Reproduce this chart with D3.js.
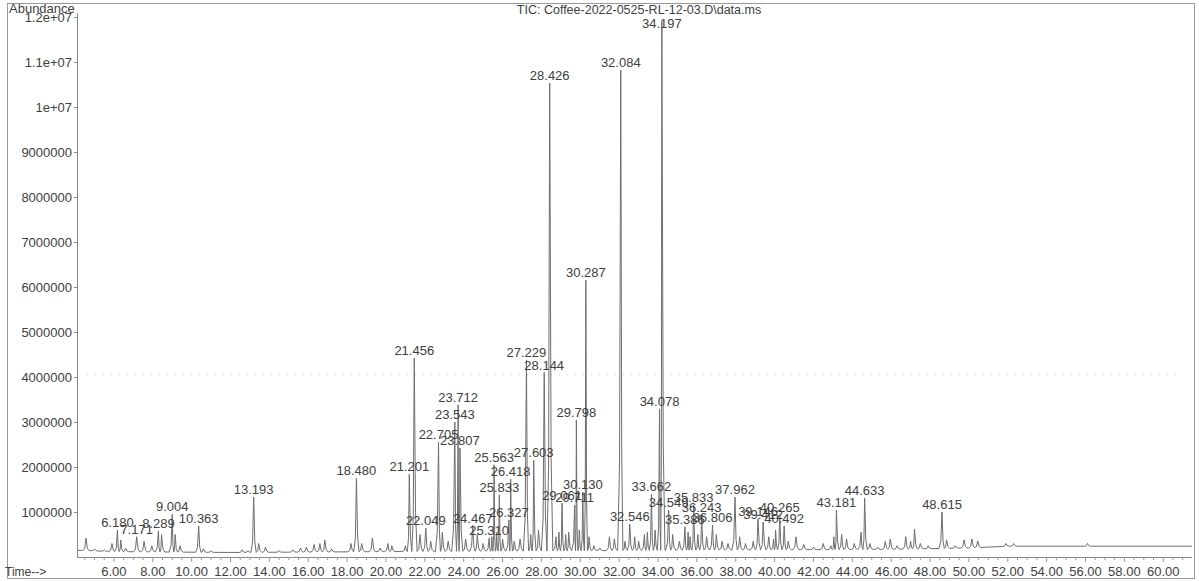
<!DOCTYPE html>
<html>
<head>
<meta charset="utf-8">
<script src="https://cdn.jsdelivr.net/npm/d3@7"></script>
<style>
  body { margin: 0; background: #fff; }
  text { font-family: "Liberation Sans", Arial, sans-serif; fill: #404040; }
</style>
</head>
<body>
<div id="chart"></div>
<script>

// Chromatogram (TIC) redrawn with d3

const width = 1199;
const height = 581;
const margin = {left: 77, right: 7, bottom: 24, top: 17};

// labelled peaks: retention time label + apex abundance
const peakLabels = ["6.180", "7.171", "8.289", "9.004", "10.363", "13.193", "18.480",
  "21.201", "21.456", "22.049", "22.705", "23.543", "23.712", "23.807", "24.467",
  "25.310", "25.563", "25.833", "26.327", "26.418", "27.229", "27.603", "28.144",
  "28.426", "29.061", "29.711", "29.798", "30.130", "30.287", "32.084", "32.546",
  "33.662", "34.078", "34.197", "34.549", "35.386", "35.833", "36.243", "36.806",
  "37.962", "39.146", "39.412", "40.265", "40.492", "43.181", "44.633", "48.615"];
const peakHeights = [600000, 450000, 580000, 950000, 690000, 1330000, 1750000,
  1840000, 4420000, 640000, 2550000, 3000000, 3380000, 2420000, 700000,
  420000, 2050000, 1380000, 820000, 1730000, 4380000, 2150000, 4100000,
  10530000, 1200000, 1150000, 3040000, 1440000, 6150000, 10820000, 730000,
  1400000, 3290000, 11900000, 1040000, 670000, 1150000, 930000, 710000,
  1330000, 850000, 780000, 930000, 690000, 1040000, 1310000, 1000000];

// small unlabelled peaks
const minorTimes = [4.56, 5.0, 5.5, 5.9, 6.35, 6.6, 7.55, 7.95, 8.45, 9.15, 9.4, 10.6, 11.0,
  12.6, 12.9, 13.45, 13.8, 14.5, 15.2, 15.6, 15.9, 16.3, 16.6, 16.85, 17.2, 18.2, 18.75,
  19.3, 19.7, 20.1, 20.3, 21.0, 21.75, 22.3, 22.9, 23.2, 24.1, 24.7, 25.0, 25.45, 25.7,
  26.0, 26.6, 26.9, 27.45, 27.85, 28.75, 28.9, 29.25, 29.4, 29.95, 30.45, 30.7, 31.0,
  31.5, 31.75, 32.3, 32.8, 33.0, 33.3, 33.45, 33.85, 34.75, 35.1, 35.55, 35.65, 36.05,
  36.5, 37.0, 37.3, 37.6, 38.2, 38.5, 38.9, 39.7, 39.95, 40.05, 40.7, 41.1, 41.5, 42.0,
  42.5, 42.9, 43.05, 43.45, 43.7, 44.1, 44.45, 44.9, 45.3, 45.7, 45.95, 46.3, 46.75,
  47.0, 47.2, 47.5, 47.9, 48.85, 49.3, 49.75, 50.15, 50.45, 51.9, 52.3, 56.1];
const minorHeights = [420000, 180000, 160000, 300000, 380000, 200000, 350000, 250000, 500000,
  500000, 250000, 180000, 140000, 160000, 140000, 300000, 220000, 140000, 160000, 200000,
  220000, 280000, 300000, 380000, 180000, 300000, 300000, 420000, 200000, 300000, 250000,
  250000, 500000, 350000, 550000, 350000, 400000, 500000, 300000, 450000, 550000, 400000,
  350000, 400000, 500000, 600000, 450000, 550000, 500000, 550000, 600000, 450000, 250000,
  200000, 450000, 400000, 350000, 450000, 350000, 500000, 550000, 600000, 500000, 350000,
  550000, 450000, 500000, 450000, 500000, 350000, 300000, 450000, 300000, 350000, 450000,
  400000, 600000, 350000, 450000, 280000, 220000, 300000, 250000, 450000, 500000, 400000,
  300000, 550000, 300000, 220000, 350000, 400000, 250000, 450000, 350000, 620000, 300000,
  250000, 380000, 250000, 380000, 400000, 360000, 300000, 300000, 300000];

// baseline level along the run
const baseTimes = [4.1, 6, 12, 20, 26, 30, 34, 40, 46, 50, 52, 61.5];
const baseValues = [150000, 120000, 100000, 120000, 130000, 140000, 150000, 160000, 170000, 200000, 240000, 240000];

// axis ticks
const yTickValues = [1000000, 2000000, 3000000, 4000000, 5000000, 6000000, 7000000,
  8000000, 9000000, 10000000, 11000000, 12000000];
const yTickLabels = ["1000000", "2000000", "3000000", "4000000", "5000000", "6000000",
  "7000000", "8000000", "9000000", "1e+07", "1.1e+07", "1.2e+07"];
const xTickValues = [6, 8, 10, 12, 14, 16, 18, 20, 22, 24, 26, 28, 30, 32, 34, 36, 38,
  40, 42, 44, 46, 48, 50, 52, 54, 56, 58, 60];

const svg = d3.select("#chart")
  .append("svg")
  .attr("width", width)
  .attr("height", height);

// scales
const xScale = d3.scaleLinear()
  .domain([4.1, 61.48])
  .range([margin.left, width - margin.right]);

const yScale = d3.scaleLinear()
  .domain([0, 12000000])
  .range([height - margin.bottom, margin.top]);

const baseScale = d3.scaleLinear()
  .domain(baseTimes)
  .range(baseValues);

// outer frame
svg.append("rect")
  .attr("x", 7.5).attr("y", 3.5)
  .attr("width", width - 12).attr("height", height - 6)
  .attr("fill", "none")
  .attr("stroke", "#999");

// faint dotted scan line
svg.append("line")
  .attr("x1", margin.left + 10).attr("x2", width - margin.right - 10)
  .attr("y1", yScale(4050000)).attr("y2", yScale(4050000))
  .attr("stroke", "#ccc")
  .attr("stroke-dasharray", "1,7");

// y axis
const yAxis = svg.append("g")
  .attr("transform", `translate(${margin.left}, 0)`)
  .call(d3.axisLeft(yScale)
    .tickValues(yTickValues)
    .tickFormat((d, i) => yTickLabels[i])
    .tickSize(3)
    .tickPadding(2));
yAxis.select(".domain")
  .attr("d", `M0.5,${yScale(0)}V${margin.top - 4}`)
  .attr("stroke", "#888");
yAxis.selectAll(".tick line").attr("stroke", "#888");
yAxis.selectAll("text").attr("font-size", "13px").attr("fill", "#444");

// x axis: minor ticks every 0.5 min, labels every 2 min
const xAxisY = yScale(0);
svg.append("line")
  .attr("x1", margin.left).attr("x2", width - margin.right)
  .attr("y1", xAxisY + 0.5).attr("y2", xAxisY + 0.5)
  .attr("stroke", "#888");

const minorTicks = d3.range(4.5, 61.5, 0.5);
svg.selectAll(".xtick")
  .data(minorTicks)
  .enter()
  .append("line")
  .attr("class", "xtick")
  .attr("x1", d => xScale(d)).attr("x2", d => xScale(d))
  .attr("y1", xAxisY)
  .attr("y2", d => xAxisY + (d % 2 === 0 ? 5 : 3))
  .attr("stroke", "#999");

svg.selectAll(".xlabel")
  .data(xTickValues)
  .enter()
  .append("text")
  .attr("class", "xlabel")
  .attr("x", d => xScale(d))
  .attr("y", 576)
  .attr("text-anchor", "middle")
  .attr("font-size", "13px")
  .text(d => d.toFixed(2));

// axis captions and title
svg.append("text")
  .attr("x", 9).attr("y", 13)
  .attr("font-size", "13px")
  .text("Abundance");

svg.append("text")
  .attr("x", 5).attr("y", 576)
  .attr("font-size", "12px")
  .text("Time-->");

svg.append("text")
  .attr("x", 639).attr("y", 14)
  .attr("text-anchor", "middle")
  .attr("font-size", "12.5px")
  .text("TIC: Coffee-2022-0525-RL-12-03.D\\data.ms");

// build the trace from the peak tables
const peaks = peakLabels.map((lab, i) => ({t: +lab, h: peakHeights[i], label: lab}))
  .concat(minorTimes.map((t, i) => ({t: t, h: minorHeights[i], label: null})))
  .sort((a, b) => a.t - b.t);

// peak outline: narrow top, a bit of foot on either side
const halfWidth = 0.16;
const tracePts = [[4.1, baseScale(4.1)]];
peaks.forEach((p, i) => {
  const prev = i > 0 ? peaks[i - 1].t : 4.1;
  const next = i < peaks.length - 1 ? peaks[i + 1].t : 61.48;
  const wl = Math.min(halfWidth, (p.t - prev) / 2);
  const wr = Math.min(halfWidth, (next - p.t) / 2);
  const bl = baseScale(p.t - wl), br = baseScale(p.t + wr);
  tracePts.push(
    [p.t - wl, bl],
    [p.t - wl * 0.4, bl + (p.h - bl) * 0.18],
    [p.t, p.h],
    [p.t + wr * 0.45, br + (p.h - br) * 0.2],
    [p.t + wr, br]);
});
tracePts.push([61.48, baseScale(61.48)]);

const line = d3.line()
  .x(d => xScale(d[0]))
  .y(d => yScale(d[1]));

svg.append("path")
  .datum(tracePts)
  .attr("d", line)
  .attr("fill", "none")
  .attr("stroke", "#6e6e6e")
  .attr("stroke-width", 1)
  .attr("stroke-linejoin", "round");

// peak labels above apexes
svg.selectAll(".plabel")
  .data(peaks.filter(p => p.label))
  .enter()
  .append("text")
  .attr("class", "plabel")
  .attr("x", d => xScale(d.t))
  .attr("y", d => Math.max(yScale(d.h) - 3, 28))
  .attr("text-anchor", "middle")
  .attr("font-size", "13px")
  .text(d => d.label);

</script>
</body>
</html>
